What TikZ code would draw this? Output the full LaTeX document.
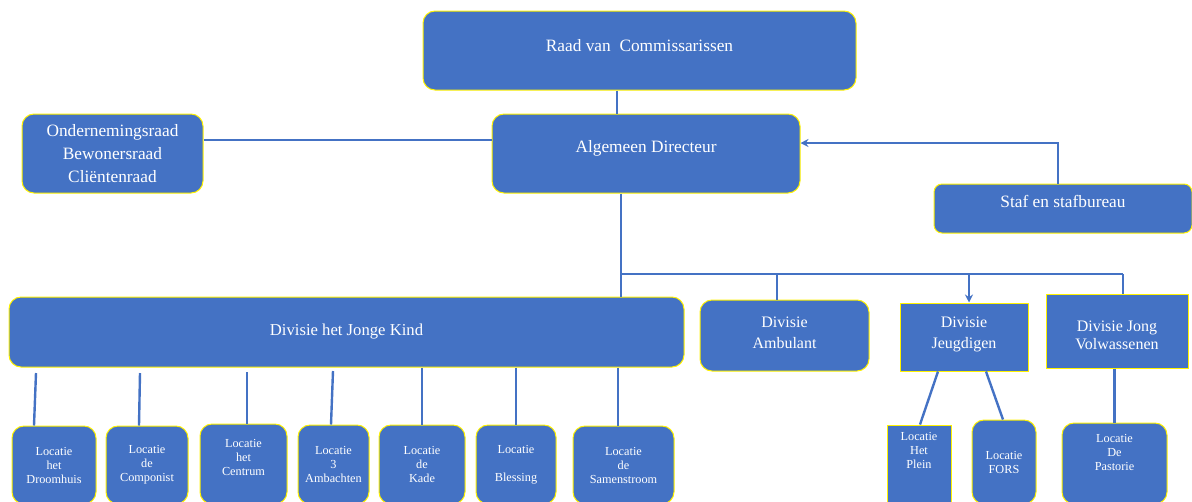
\documentclass[tikz,border=0pt]{standalone}
\usepackage{fontspec}
\setmainfont{Liberation Serif}
\usetikzlibrary{arrows.meta,calc}

\tikzset{every picture/.style={line width=0.75pt}}
\tikzset{
  orgbox/.style={draw={rgb, 255:red, 255; green, 242; blue, 0 }, fill={rgb, 255:red, 68; green, 114; blue, 196 }, text=white, rounded corners=9pt, inner sep=0pt, align=center, font=\fontsize{13}{17}\selectfont},
  divbox/.style={orgbox, font=\fontsize{12}{15.5}\selectfont},
  sqbox/.style={divbox, sharp corners},
  locbox/.style={orgbox, font=\fontsize{9.2}{10.5}\selectfont},
  locsq/.style={locbox, sharp corners},
  boxwh/.style 2 args={minimum width=#1*0.75pt, minimum height=#2*0.75pt},
  link/.style={draw={rgb, 255:red, 68; green, 114; blue, 196 }, line width=1.8pt},
  linktip/.style={link, -{Stealth[length=6pt, width=6pt]}}
}

\begin{document}
\begin{tikzpicture}[x=0.75pt,y=0.75pt,yscale=-1,xscale=1]
\useasboundingbox (0,0) rectangle (1192,501);

%Rounded Rect: top
\node [orgbox, boxwh={433}{79}, text depth=8pt] (raad) at (639.5,50.5) {Raad van \ Commissarissen};
\node [orgbox, boxwh={308}{79}, text depth=11pt] (algd) at (646,153.5) {Algemeen Directeur};
\node [orgbox, boxwh={181}{79}] (raden) at (112.5,153.5) {Ondernemingsraad\\Bewonersraad\\Cliëntenraad};
\node [orgbox, boxwh={258}{49}, text depth=10.5pt, rounded corners=6pt] (staf) at (1063,208.5) {Staf en stafbureau};

%Rounded Rect: divisies
\node [divbox, boxwh={675}{70}, font=\fontsize{12.5}{16}\selectfont] (jk) at (346.5,332) {Divisie het Jonge Kind};
\node [divbox, boxwh={169}{71}] (amb) at (784.5,335.5) {Divisie\\Ambulant\\[-11pt]\mbox{}};
\node [sqbox, boxwh={128}{68}] (jeugd) at (964,337) {Divisie\\Jeugdigen\\[-9pt]\mbox{}};
\node [sqbox, boxwh={142}{74}] (jv) at (1117,331) {\mbox{}\\[-1.2pt]Divisie Jong\\[-2pt]Volwassenen};

%Rounded Rect: locaties
\node [locbox, boxwh={84}{78}] (droom) at (54,465) {Locatie\\het\\Droomhuis};
\node [locbox, boxwh={82}{78}] (compo) at (147,465) {Locatie\\de\\Componist};
\node [locbox, boxwh={87}{80}] (centrum) at (243.5,464) {Locatie\\het\\Centrum\\\mbox{}};
\node [locbox, boxwh={71}{79}] (ambacht) at (333.5,464.5) {Locatie\\3\\Ambachten};
\node [locbox, boxwh={86}{79}] (kade) at (422,464.5) {Locatie\\de\\Kade};
\node [locbox, boxwh={80}{79}] (blessing) at (516,464.5) {Locatie\\[10.5pt]Blessing};
\node [locbox, boxwh={101}{78}] (samen) at (623.5,465) {Locatie\\de\\Samenstroom};
\node [locsq, boxwh={64}{79}] (plein) at (919,464.5) {Locatie\\Het\\Plein\\[11pt]\mbox{}};
\node [locbox, boxwh={64}{84}] (fors) at (1004,462) {Locatie\\FORS};
\node [locbox, boxwh={105}{81}] (pastorie) at (1114.5,463.5) {Locatie\\De\\Pastorie\\[6.75pt]\mbox{}};

%Straight Lines: top
\coordinate (rc) at ($(raad.south)+(-22.5,0)$);
\draw [link] (rc) -- (rc |- algd.north) ;
\coordinate (oc) at ($(raden.east)+(0,-13.5)$);
\draw [link] (oc) -- (oc -| algd.west) ;
\coordinate (sc) at ($(staf.north)+(-5,0)$);
\coordinate (ac) at ($(algd.east)+(0,-10.5)$);
\draw [linktip] (sc) |- (ac) ;

%Straight Lines: bus
\coordinate (ad) at ($(algd.south)+(-25,0)$);
\coordinate (bus) at (621,274);
\coordinate (busend) at (1123,274);
\draw [link] (ad) -- (bus) -- (busend) ;
\draw [link] (bus) -- (bus |- jk.north) ;
\coordinate (ab) at ($(amb.north)+(-7.5,0)$);
\draw [link] (ab |- bus) -- (ab) ;
\coordinate (jb) at ($(jeugd.north)+(5,0)$);
\draw [linktip] (jb |- bus) -- (jb) ;
\draw [link] (busend) -- (busend |- jv.north) ;

%Straight Lines: het Jonge Kind
\coordinate (t1) at (36,373);
\coordinate (t2) at (140,373);
\coordinate (t3) at (247,372);
\coordinate (t4) at (333,371);
\draw [link] (t1) -- ($(droom.north)+(-20,0)$) ;
\draw [link] (t2) -- ($(compo.north)+(-8,0)$) ;
\draw [link] (t3) -- ($(centrum.north)+(3.5,0)$) ;
\draw [link] (t4) -- ($(ambacht.north)+(-2.5,0)$) ;
\draw [link] (kade.north |- jk.south) -- (kade.north) ;
\draw [link] (blessing.north |- jk.south) -- (blessing.north) ;
\coordinate (sb) at ($(samen.north)+(-5.5,0)$);
\draw [link] (sb |- jk.south) -- (sb) ;

%Straight Lines: Jeugdigen and Jong Volwassenen
\draw [link] ($(jeugd.south)+(-26,0)$) -- ($(plein.north)+(1,0)$) ;
\draw [link] ($(jeugd.south)+(22,0)$) -- ($(fors.north)+(-1,0)$) ;
\draw [link] (pastorie.north |- jv.south) -- (pastorie.north) ;

\end{tikzpicture}
\end{document}
